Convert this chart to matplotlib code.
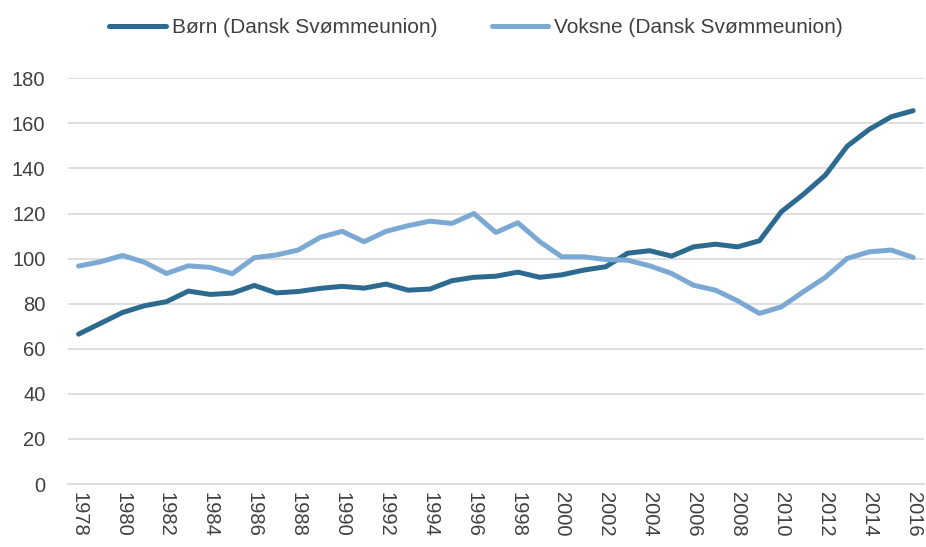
import numpy as np
import matplotlib.pyplot as plt

# Data
years = np.arange(1978, 2017)

born = [66.5, 71.3, 76.1, 79.1, 80.9, 85.6, 84.1, 84.7, 88.1, 84.8,
        85.4, 86.8, 87.7, 86.9, 88.7, 86.0, 86.5, 90.2, 91.7, 92.2,
        94.0, 91.7, 92.8, 94.9, 96.4, 102.4, 103.5, 101.1, 105.2, 106.4,
        105.2, 107.9, 120.8, 128.5, 137.0, 149.9, 157.3, 162.9, 165.6]

voksne = [96.7, 98.6, 101.4, 98.4, 93.4, 96.8, 96.1, 93.3, 100.4, 101.6,
          103.8, 109.4, 112.1, 107.5, 112.1, 114.6, 116.6, 115.6, 120.0, 111.6,
          115.9, 107.5, 100.8, 100.8, 99.6, 99.3, 96.8, 93.4, 88.2, 86.0,
          81.3, 75.7, 78.6, 85.3, 91.7, 100.1, 103.0, 103.8, 100.5]

xticks = np.arange(1978, 2017, 2)
yticks = np.arange(0, 181, 20)

plt.rcParams['font.family'] = ['Liberation Sans', 'DejaVu Sans']
tc = '#404040'

fig = plt.figure(figsize=(9.26, 5.47), dpi=100)
ax = fig.add_axes([0.073, 0.115, 0.925, 0.742])

ax.plot(years, born, color='#2C6A8F', lw=3.6, solid_capstyle='round',
        label='Børn (Dansk Svømmeunion)')
ax.plot(years, voksne, color='#7BA9D3', lw=3.6, solid_capstyle='round',
        label='Voksne (Dansk Svømmeunion)')

ax.set_xlim(1977.5, 2016.5)
ax.set_ylim(0, 180)
ax.set_yticks(yticks)
ax.set_xticks(xticks)
ax.set_xticklabels([str(y) for y in xticks], rotation=270)
ax.tick_params(axis='both', length=0, labelsize=14.5, colors=tc)
ax.tick_params(axis='y', pad=16)
ax.tick_params(axis='x', pad=6)

ax.grid(axis='y', color='#D9D9D9', lw=1.2)
ax.set_axisbelow(True)
for s in ['top', 'right', 'left']:
    ax.spines[s].set_visible(False)
ax.spines['bottom'].set_color('#D9D9D9')
ax.spines['bottom'].set_linewidth(1.2)

leg = ax.legend(loc='center', bbox_to_anchor=(0.477, 1.125), ncol=2,
                frameon=False, fontsize=15, handlelength=2.7,
                columnspacing=2.6, handletextpad=0.3)
for t in leg.get_texts():
    t.set_color(tc)

fig.savefig('out.png', dpi=100)
